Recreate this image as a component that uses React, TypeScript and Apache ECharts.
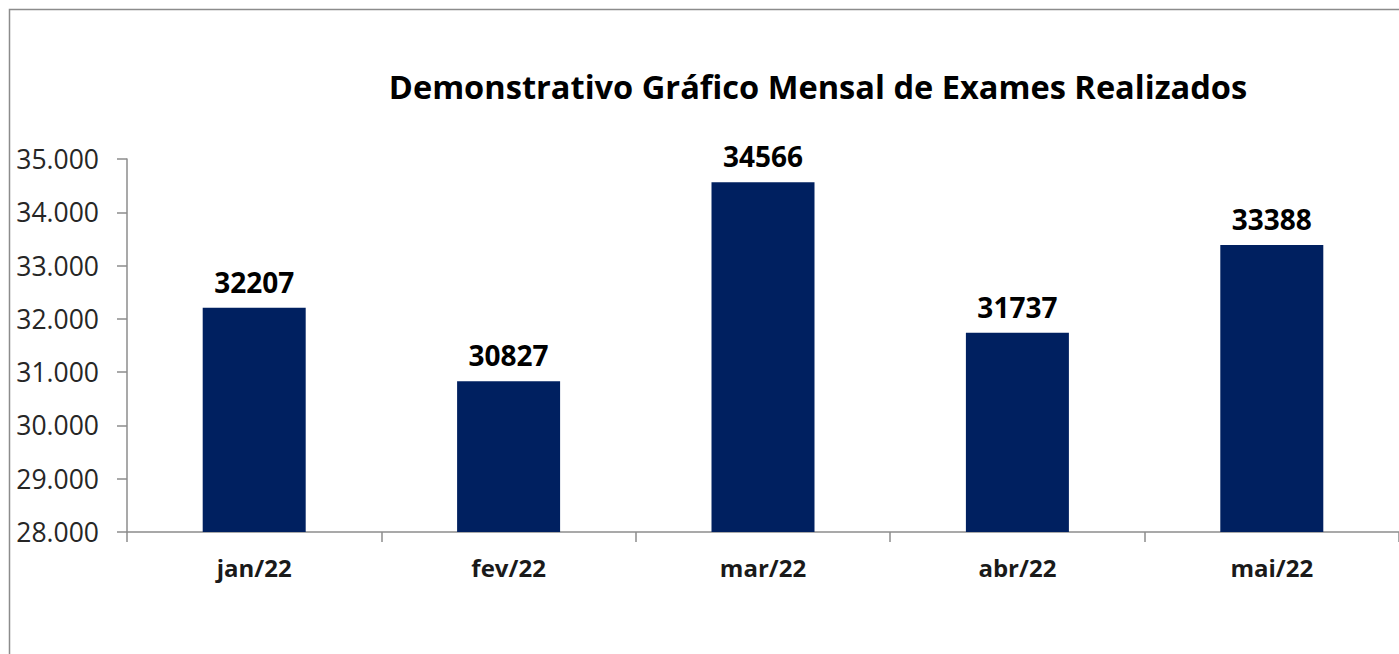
import React, { useEffect, useRef } from "react";
import * as echarts from "echarts";

const categories = ["jan/22", "fev/22", "mar/22", "abr/22", "mai/22"];
const exames = [32207, 30827, 34566, 31737, 33388];
const yMin = 28000;
const yMax = 35000;
const yStep = 1000;
const titleText = "Demonstrativo Gráfico Mensal de Exames Realizados";

const FONT = "'Open Sans', 'Noto Sans', sans-serif";

export default function App() {
  const ref = useRef<HTMLDivElement>(null);
  useEffect(() => {
    const chart = echarts.init(ref.current!, null, { renderer: "svg" });
    chart.setOption({
      animation: false,
      backgroundColor: "#ffffff",
      title: {
        text: titleText,
        left: 813,
        top: 65,
        textAlign: "center",
        textStyle: { fontFamily: FONT, fontSize: 32.6, fontWeight: "bold", color: "#000000" },
      },
      graphic: [
        {
          type: "rect",
          shape: { x: 9.5, y: 9.5, width: 1500, height: 800 },
          style: { fill: "none", stroke: "#8c8c8c", lineWidth: 1.5 },
          silent: true,
        },
      ],
      grid: { left: 127, width: 1284, top: 159, bottom: 122, containLabel: false },
      xAxis: {
        type: "category",
        data: categories,
        axisLine: { lineStyle: { color: "#8c8c8c", width: 1.5 } },
        axisTick: { show: true, length: 10, alignWithLabel: false, lineStyle: { color: "#8c8c8c", width: 1.5 } },
        axisLabel: {
          margin: 23,
          fontFamily: FONT,
          fontSize: 24,
          fontWeight: "bold",
          color: "#1a1a1a",
        },
      },
      yAxis: {
        type: "value",
        min: yMin,
        max: yMax,
        interval: yStep,
        splitLine: { show: false },
        axisLine: { show: true, lineStyle: { color: "#8c8c8c", width: 1.5 } },
        axisTick: { show: true, length: 10, inside: false, lineStyle: { color: "#8c8c8c", width: 1.5 } },
        axisLabel: {
          margin: 28,
          fontFamily: FONT,
          fontSize: 26.5,
          color: "#262626",
          formatter: (v: number) => v.toLocaleString("de-DE"),
        },
      },
      series: [
        {
          type: "bar",
          data: exames,
          barWidth: 103,
          itemStyle: { color: "#002060" },
          label: {
            show: true,
            position: "top",
            distance: 12,
            fontFamily: FONT,
            fontSize: 28,
            fontWeight: "bold",
            color: "#000000",
          },
        },
      ],
    });
    return () => chart.dispose();
  }, []);
  return (
    <div
      ref={ref}
      style={{ position: "absolute", left: 0, top: 0, width: 1399, height: 654 }}
    />
  );
}
